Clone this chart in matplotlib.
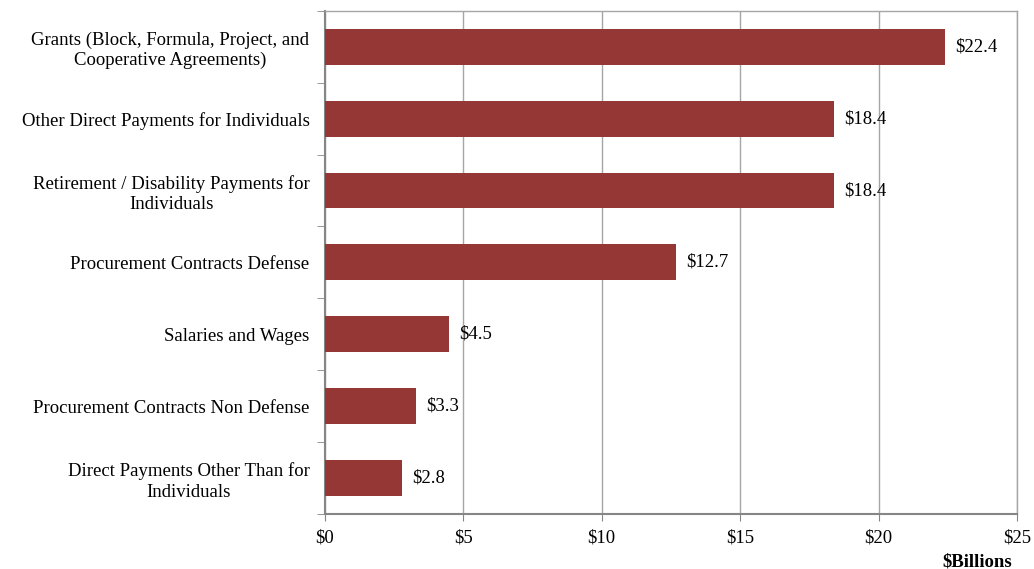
import matplotlib.pyplot as plt
import numpy as np

categories = [
    "Grants (Block, Formula, Project, and\nCooperative Agreements)",
    "Other Direct Payments for Individuals",
    "Retirement / Disability Payments for\nIndividuals",
    "Procurement Contracts Defense",
    "Salaries and Wages",
    "Procurement Contracts Non Defense",
    "Direct Payments Other Than for\nIndividuals",
]
values = [22.4, 18.4, 18.4, 12.7, 4.5, 3.3, 2.8]
xticks = [0, 5, 10, 15, 20, 25]

plt.rcParams["font.family"] = ["Liberation Serif", "DejaVu Serif"]
plt.rcParams["font.size"] = 13.5

fig = plt.figure(figsize=(10.34, 5.69), dpi=100)
ax = fig.add_axes([0.314, 0.0967, 0.6696, 0.8843])

y = np.arange(len(categories))
ax.barh(y, values, height=0.5, color="#953735", zorder=3)
for yi, v in zip(y, values):
    ax.text(v + 0.35, yi, f"${v:.1f}", va="center", ha="left", zorder=4)

ax.set_ylim(len(categories) - 0.5, -0.5)
ax.set_xlim(0, 25)
ax.set_xticks(xticks, [f"${t}" for t in xticks])
ax.set_yticks(y, categories)
for lbl in ax.get_yticklabels():
    lbl.set_multialignment("center")
    lbl.set_linespacing(1.25)
ax.set_yticks(np.arange(-0.5, len(categories) + 0.5, 1), minor=True)
ax.tick_params(axis="y", which="major", length=0, pad=11)
ax.tick_params(axis="y", which="minor", length=6, color="#868686", direction="out")
ax.tick_params(axis="x", length=5, color="#868686", direction="out", pad=6)

ax.grid(axis="x", color="#A6A6A6", linewidth=1.0, zorder=0)
for side in ("left", "bottom"):
    ax.spines[side].set_color("#868686")
    ax.spines[side].set_linewidth(1.5)
for side in ("top", "right"):
    ax.spines[side].set_color("#A6A6A6")
    ax.spines[side].set_linewidth(1.0)

fig.text(0.979, 0.013, "$Billions", ha="right", va="center", fontweight="bold")

fig.savefig("out.png", dpi=100)
